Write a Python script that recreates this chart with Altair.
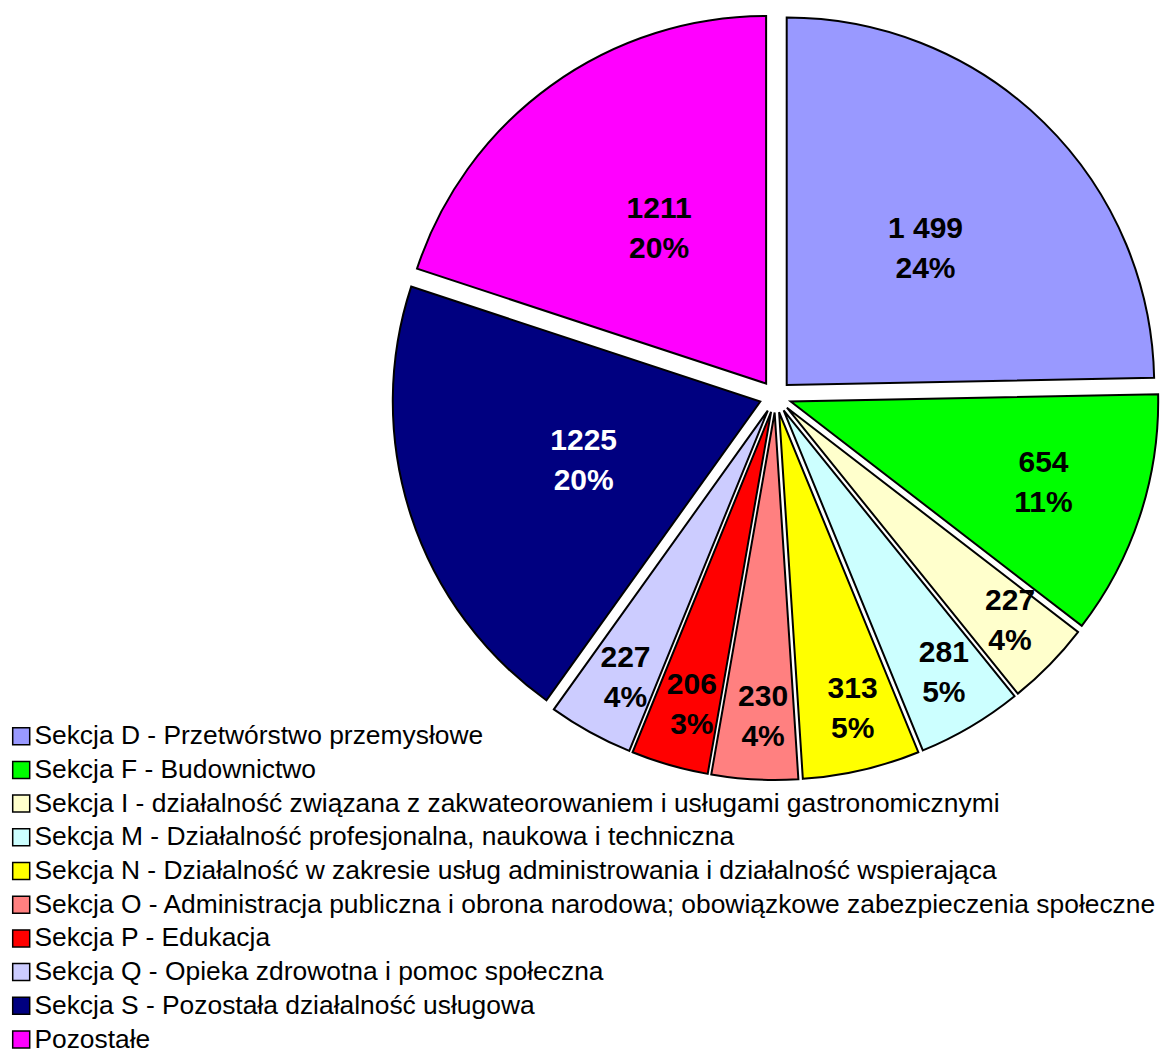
import altair as alt
import pandas as pd

categories = [
    "Sekcja D - Przetwórstwo przemysłowe",
    "Sekcja F - Budownictwo",
    "Sekcja I - działalność związana z zakwateorowaniem i usługami gastronomicznymi",
    "Sekcja M - Działalność profesjonalna, naukowa i techniczna",
    "Sekcja N - Działalność w zakresie usług administrowania i działalność wspierająca",
    "Sekcja O - Administracja publiczna i obrona narodowa; obowiązkowe zabezpieczenia społeczne",
    "Sekcja P - Edukacja",
    "Sekcja Q - Opieka zdrowotna i pomoc społeczna",
    "Sekcja S - Pozostała działalność usługowa",
    "Pozostałe",
]
values = [1499, 654, 227, 281, 313, 230, 206, 227, 1225, 1211]
value_labels = ["1 499", "654", "227", "281", "313", "230", "206", "227", "1225", "1211"]
pct_labels = ["24%", "11%", "4%", "5%", "5%", "4%", "3%", "4%", "20%", "20%"]
colors = ["#9999FF", "#00FF00", "#FFFFCC", "#CCFFFF", "#FFFF00",
          "#FF8080", "#FF0000", "#CCCCFF", "#000080", "#FF00FF"]

df = pd.DataFrame({
    "cat": categories,
    "value": values,
    "order": list(range(len(categories))),
    "label": [a + "\n" + b for a, b in zip(value_labels, pct_labels)],
})

CX, CY, R, D = 767.5, 388.5, 367.5, 16.0
LH = 40

base = alt.Chart(df).transform_joinaggregate(
    total="sum(value)"
).transform_window(
    cum="sum(value)", sort=[alt.SortField("order")], frame=[None, 0]
).transform_calculate(
    t1="datum.cum / datum.total * 2 * PI",
    t0="(datum.cum - datum.value) / datum.total * 2 * PI",
).transform_calculate(
    mid="(datum.t0 + datum.t1) / 2",
    share="datum.value / datum.total",
).transform_calculate(
    px=f"{CX} + {D} * sin(datum.mid)",
    py=f"{CY} - {D} * cos(datum.mid)",
    rl=f"{R} * (datum.share > 0.15 ? 0.52 : (datum.share > 0.08 ? 0.71 : 0.83))",
).transform_calculate(
    lx="datum.px + datum.rl * sin(datum.mid)",
    ly="datum.py - datum.rl * cos(datum.mid)",
)

arcs = base.mark_arc(radius=R, stroke="black", strokeWidth=2, strokeJoin="miter").encode(
    x=alt.X("px:Q", scale=None, axis=None),
    y=alt.Y("py:Q", scale=None, axis=None),
    theta=alt.Theta("t0:Q", scale=None),
    theta2="t1:Q",
    color=alt.Color(
        "cat:N",
        scale=alt.Scale(domain=categories, range=colors),
        sort=categories,
        legend=alt.Legend(
            title=None,
            orient="none",
            legendX=0,
            legendY=715,
            direction="vertical",
            symbolType="square",
            symbolSize=289,
            symbolStrokeColor="black",
            symbolStrokeWidth=1.5,
            symbolOpacity=1,
            labelFont="Liberation Sans",
            labelFontSize=26.4,
            labelColor="black",
            labelLimit=0,
            labelOffset=0,
            rowPadding=6.7,
            padding=0,
            offset=0,
        ),
    ),
    order=alt.Order("order:Q"),
)

texts = base.mark_text(
    font="Liberation Sans", fontSize=30, fontWeight="bold",
    lineBreak="\n", lineHeight=LH, align="center", baseline="middle",
    dx=5, dy=-LH / 2,
).encode(
    x=alt.X("lx:Q", scale=None, axis=None),
    y=alt.Y("ly:Q", scale=None, axis=None),
    text="label:N",
    color=alt.condition(
        alt.datum.cat == "Sekcja S - Pozostała działalność usługowa",
        alt.value("white"), alt.value("black"),
    ),
)

chart = alt.layer(arcs, texts).properties(
    width=1152, height=1046, autosize=alt.AutoSizeParams(type="none"), padding=0
).configure_view(stroke=None)

chart.save("out.html", embed_options={"renderer": "svg", "actions": False})
